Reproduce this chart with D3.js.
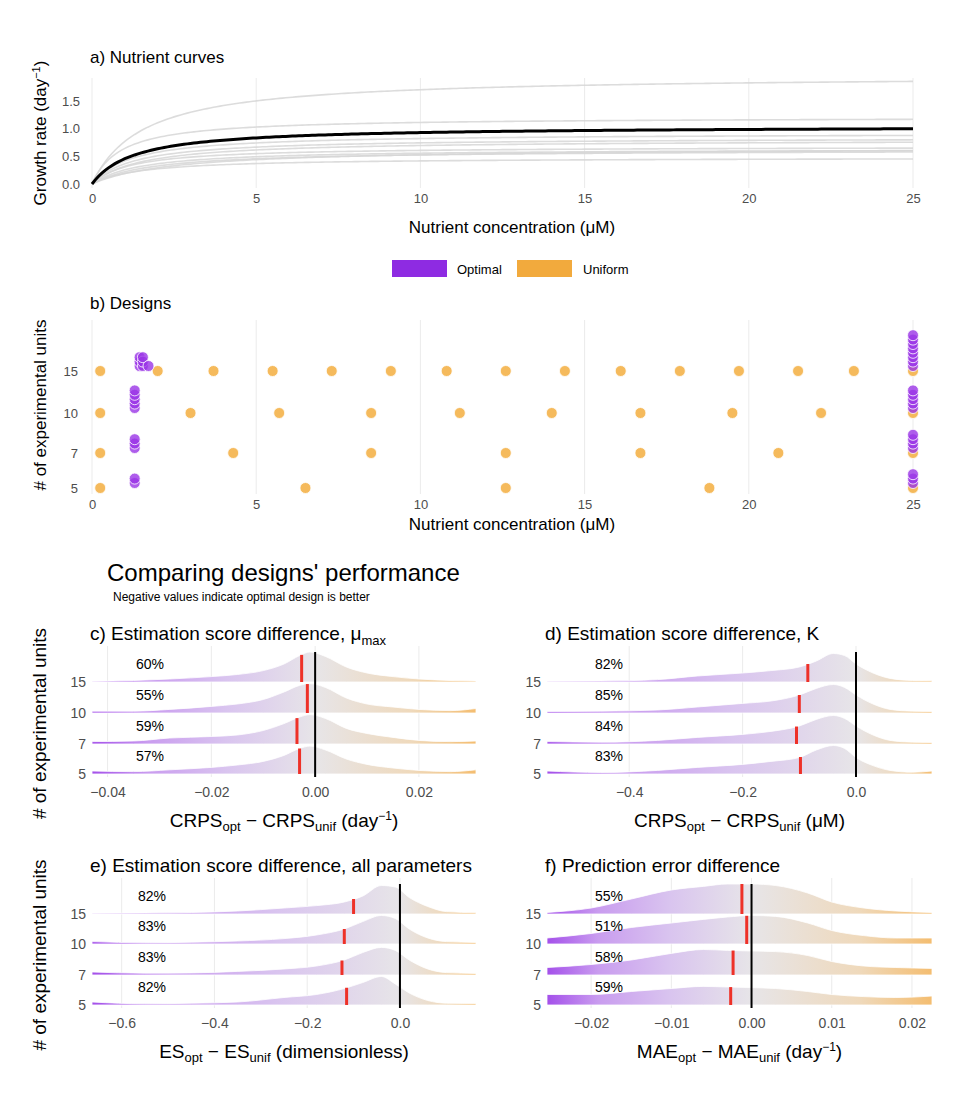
<!DOCTYPE html>
<html><head><meta charset="utf-8">
<script src="https://cdn.jsdelivr.net/npm/d3@7"></script>
<style>
body{margin:0;background:#fff;font-family:"Liberation Sans",Arial,sans-serif;}
text{font-family:"Liberation Sans",Arial,sans-serif;}
.tick text{fill:#4d4d4d;font-size:13px;}
.tick line,.domain{display:none;}
</style></head>
<body><svg width="972" height="1100"></svg>
<script>
var svg = d3.select('svg');
var purple = '#9a35e6', orange = '#f3ae3f';

// ---- panel a: Monod curve parameters ----
var curveMuMax = [1.97, 1.21, 0.92, 0.84, 0.80, 0.68, 0.64, 0.62, 0.48, 0.66];
var curveK     = [1.56, 0.88, 1.2, 1.3, 1.5, 1.2, 1.5, 1.8, 1.5, 2.5];
var meanMuMax = 1.05, meanK = 1.3;

// ---- panel b: designs ----
var designRows = [5, 7, 10, 15];
var uniformX = {
  15: [0.25, 2.0, 3.7, 5.5, 7.3, 9.1, 10.8, 12.6, 14.4, 16.1, 17.9, 19.7, 21.5, 23.2, 25],
  10: [0.25, 3.0, 5.7, 8.5, 11.2, 14.0, 16.7, 19.5, 22.2, 25],
  7:  [0.25, 4.3, 8.5, 12.6, 16.7, 20.9, 25],
  5:  [0.25, 6.5, 12.6, 18.8, 25]
};
var optimalX = {
  15: [1.45, 1.45, 1.45, 1.55, 1.55, 1.55, 1.72, 25, 25, 25, 25, 25, 25, 25, 25],
  10: [1.3, 1.3, 1.3, 1.3, 1.3, 25, 25, 25, 25, 25],
  7:  [1.3, 1.3, 1.3, 25, 25, 25, 25],
  5:  [1.3, 1.3, 25, 25, 25]
};

// ---- ridge panels ----
var ridgeRows = [15, 10, 7, 5];
var panelC = {
  grid: [-0.043,-0.035,-0.028,-0.02,-0.015,-0.01,-0.006,-0.003,-0.001,0.002,0.006,0.01,0.015,0.02,0.026,0.031],
  dens: [[0.02,0.05,0.1,0.18,0.25,0.38,0.6,0.88,1.0,0.85,0.5,0.3,0.18,0.1,0.05,0.03],
         [0.06,0.06,0.12,0.22,0.3,0.45,0.7,0.92,0.98,0.85,0.5,0.3,0.2,0.12,0.08,0.15],
         [0.08,0.1,0.2,0.25,0.3,0.45,0.68,0.9,0.98,0.85,0.52,0.35,0.22,0.12,0.08,0.1],
         [0.1,0.08,0.14,0.22,0.3,0.42,0.62,0.85,0.93,0.8,0.5,0.32,0.2,0.12,0.08,0.14]],
  medians: [-0.0026, -0.0015, -0.0035, -0.0030],
  pct: ['60%', '55%', '59%', '57%'],
  ticks: [-0.04, -0.02, 0, 0.02], fmt: '.2f'
};
var panelD = {
  grid: [-0.545,-0.45,-0.35,-0.28,-0.2,-0.15,-0.1,-0.07,-0.04,-0.02,0,0.03,0.06,0.1,0.134],
  dens: [[0.02,0.03,0.08,0.2,0.3,0.38,0.5,0.7,0.95,0.88,0.6,0.3,0.12,0.05,0.04],
         [0.05,0.06,0.1,0.2,0.32,0.4,0.6,0.82,0.95,0.85,0.6,0.3,0.12,0.06,0.05],
         [0.08,0.06,0.12,0.22,0.32,0.42,0.6,0.82,0.95,0.85,0.6,0.3,0.12,0.06,0.05],
         [0.1,0.05,0.12,0.22,0.32,0.42,0.55,0.8,0.95,0.85,0.55,0.28,0.12,0.06,0.1]],
  medians: [-0.085, -0.100, -0.105, -0.098],
  pct: ['82%', '85%', '84%', '83%'],
  ticks: [-0.4, -0.2, 0], fmt: '.1f'
};
var panelE = {
  grid: [-0.664,-0.55,-0.45,-0.35,-0.25,-0.18,-0.12,-0.08,-0.04,-0.01,0.02,0.06,0.1,0.164],
  dens: [[0.02,0.03,0.05,0.1,0.2,0.28,0.4,0.6,0.95,0.9,0.55,0.25,0.08,0.04],
         [0.08,0.04,0.06,0.1,0.18,0.3,0.5,0.75,0.95,0.85,0.5,0.2,0.08,0.05],
         [0.1,0.06,0.07,0.12,0.2,0.3,0.5,0.75,0.92,0.82,0.5,0.2,0.08,0.05],
         [0.1,0.04,0.06,0.1,0.25,0.35,0.55,0.75,0.95,0.7,0.4,0.15,0.06,0.05]],
  medians: [-0.100, -0.120, -0.125, -0.115],
  pct: ['82%', '83%', '83%', '82%'],
  ticks: [-0.6, -0.4, -0.2, 0], fmt: '.1f'
};
var panelF = {
  grid: [-0.0255,-0.02,-0.015,-0.01,-0.006,-0.003,0,0.003,0.007,0.01,0.014,0.018,0.0225],
  dens: [[0.05,0.2,0.5,0.8,0.92,1.0,1.0,0.95,0.7,0.4,0.2,0.1,0.05],
         [0.2,0.35,0.55,0.7,0.82,0.9,0.95,0.92,0.7,0.45,0.28,0.2,0.2],
         [0.25,0.35,0.5,0.72,0.85,0.82,0.8,0.78,0.65,0.45,0.3,0.25,0.22],
         [0.35,0.35,0.45,0.55,0.62,0.6,0.58,0.55,0.45,0.35,0.28,0.25,0.3]],
  medians: [-0.0012, -0.0006, -0.0023, -0.0026],
  pct: ['55%', '51%', '58%', '59%'],
  ticks: [-0.02, -0.01, 0, 0.01, 0.02], fmt: '.2f'
};

var defs = svg.append('defs');
function minus(s){ return s.replace('-', '\u2212'); }

// ================= panel a =================
var xA = d3.scaleLinear().domain([0, 25]).range([92, 913]);
var yA = d3.scaleLinear().domain([0, 1.5]).range([184, 101]);
var gA = svg.append('g');
gA.selectAll('.grid').data([0,5,10,15,20,25]).enter().append('line')
  .attr('x1', d => xA(d)).attr('x2', d => xA(d)).attr('y1', 78).attr('y2', 188)
  .attr('stroke', '#ebebeb');
gA.append('g').attr('transform', 'translate(0,188)')
  .call(d3.axisBottom(xA).tickValues([0,5,10,15,20,25]).tickSize(0).tickPadding(6));
gA.append('g').attr('transform', 'translate(84,0)')
  .call(d3.axisLeft(yA).tickValues([0,0.5,1,1.5]).tickFormat(d3.format('.1f')).tickSize(0).tickPadding(4));
var conc = d3.range(0, 25.001, 0.1);
var lineA = d3.line().x(d => xA(d[0])).y(d => yA(d[1]));
curveMuMax.forEach(function(m, i){
  gA.append('path').attr('d', lineA(conc.map(c => [c, m * c / (curveK[i] + c)])))
    .attr('fill', 'none').attr('stroke', '#d6d6d6').attr('stroke-opacity', 0.85).attr('stroke-width', 1.6);
});
gA.append('path').attr('d', lineA(conc.map(c => [c, meanMuMax * c / (meanK + c)])))
  .attr('fill', 'none').attr('stroke', '#000').attr('stroke-width', 3);
svg.append('text').attr('x', 90).attr('y', 63).attr('font-size', 17).text('a) Nutrient curves');
var ya = svg.append('text').attr('transform', 'translate(46,133) rotate(-90)').attr('text-anchor', 'middle').attr('font-size', 17);
ya.append('tspan').text('Growth rate (day');
ya.append('tspan').attr('dy', -6).attr('font-size', 11).text('\u22121');
ya.append('tspan').attr('dy', 6).text(')');
svg.append('text').attr('x', 512).attr('y', 233).attr('text-anchor', 'middle').attr('font-size', 17).text('Nutrient concentration (\u03bcM)');

// legend
svg.append('rect').attr('x', 392).attr('y', 260).attr('width', 55).attr('height', 17).attr('fill', '#8e2be2');
svg.append('text').attr('x', 457).attr('y', 274).attr('font-size', 13).text('Optimal');
svg.append('rect').attr('x', 517).attr('y', 260).attr('width', 55).attr('height', 17).attr('fill', '#f2aa3d');
svg.append('text').attr('x', 583).attr('y', 274).attr('font-size', 13).text('Uniform');

// ================= panel b =================
var yBscale = d3.scaleOrdinal().domain([5,7,10,15]).range([488,453,413,371]);
var gB = svg.append('g');
gB.selectAll('.grid').data([0,5,10,15,20,25]).enter().append('line')
  .attr('x1', d => xA(d)).attr('x2', d => xA(d)).attr('y1', 320).attr('y2', 494)
  .attr('stroke', '#ebebeb');
gB.append('g').attr('transform', 'translate(0,494)')
  .call(d3.axisBottom(xA).tickValues([0,5,10,15,20,25]).tickSize(0).tickPadding(6));
gB.append('g').attr('transform', 'translate(80,0)')
  .call(d3.axisLeft(yBscale).tickValues(designRows).tickSize(0).tickPadding(2));
designRows.forEach(function(n){
  gB.selectAll('.u' + n).data(uniformX[n]).enter().append('circle')
    .attr('cx', d => xA(d)).attr('cy', yBscale(n)).attr('r', 5.5)
    .attr('fill', orange).attr('fill-opacity', 0.85).attr('stroke', '#fff').attr('stroke-width', 0.8);
  var counts = {};
  gB.selectAll('.o' + n).data(optimalX[n]).enter().append('circle')
    .attr('cx', d => xA(d))
    .attr('cy', function(d){ var k = counts[d] || 0; counts[d] = k + 1; return yBscale(n) - 5 - k * 4.4; })
    .attr('r', 5.5)
    .attr('fill', purple).attr('fill-opacity', 0.8).attr('stroke', '#fff').attr('stroke-width', 0.8);
});
svg.append('text').attr('x', 90).attr('y', 309).attr('font-size', 17).text('b) Designs');
svg.append('text').attr('transform', 'translate(46,405) rotate(-90)').attr('text-anchor', 'middle').attr('font-size', 17).text('# of experimental units');
svg.append('text').attr('x', 512).attr('y', 530).attr('text-anchor', 'middle').attr('font-size', 17).text('Nutrient concentration (\u03bcM)');

// header
svg.append('text').attr('x', 107).attr('y', 581).attr('font-size', 24).text("Comparing designs' performance");
svg.append('text').attr('x', 113).attr('y', 601).attr('font-size', 12).text('Negative values indicate optimal design is better');

// ================= ridge panels =================
function ridgePanel(p, id, x0, x1, rowY, labelX, title, xlab, showY) {
  var x = d3.scaleLinear().domain([p.grid[0], p.grid[p.grid.length - 1]]).range([x0, x1]);
  var h = 30;
  var g = svg.append('g');
  var top = rowY[0] - 36, bot = rowY[3] + 3;
  g.selectAll('.grid').data(p.ticks).enter().append('line')
    .attr('x1', d => x(d)).attr('x2', d => x(d)).attr('y1', top).attr('y2', bot)
    .attr('stroke', '#ebebeb');
  var grad = defs.append('linearGradient').attr('id', 'grad' + id)
    .attr('gradientUnits', 'userSpaceOnUse').attr('x1', x0).attr('x2', x1).attr('y1', 0).attr('y2', 0);
  var z = (x(0) - x0) / (x1 - x0);
  grad.append('stop').attr('offset', 0).attr('stop-color', '#a450ea');
  grad.append('stop').attr('offset', z * 0.25).attr('stop-color', '#c99cef');
  grad.append('stop').attr('offset', z * 0.6).attr('stop-color', '#d9c4ef');
  grad.append('stop').attr('offset', z).attr('stop-color', '#e7e5e8');
  grad.append('stop').attr('offset', z + (1 - z) * 0.6).attr('stop-color', '#efd9bb');
  grad.append('stop').attr('offset', 1).attr('stop-color', '#f4bd70');
  p.dens.forEach(function(ds, i){
    var base = rowY[i];
    var pts = p.grid.map((gx, j) => [gx, ds[j]]);
    var area = d3.area().curve(d3.curveMonotoneX).x(d => x(d[0])).y0(base).y1(d => base - d[1] * h);
    g.append('path').attr('d', area(pts)).attr('fill', 'url(#grad' + id + ')')
      .attr('stroke', '#fff').attr('stroke-width', 0.8);
    // median segment up to the density at the median
    var m = p.medians[i];
    var j = d3.bisectRight(p.grid, m) - 1;
    var t = (m - p.grid[j]) / (p.grid[j + 1] - p.grid[j]);
    var hm = (ds[j] + t * (ds[j + 1] - ds[j])) * h;
    g.append('line').attr('x1', x(m)).attr('x2', x(m)).attr('y1', base).attr('y2', base - hm)
      .attr('stroke', '#ee3128').attr('stroke-width', 3);
    g.append('text').attr('x', labelX).attr('y', base - 13).attr('text-anchor', 'middle')
      .attr('font-size', 14).text(p.pct[i]);
  });
  g.append('line').attr('x1', x(0)).attr('x2', x(0)).attr('y1', top + 6).attr('y2', bot)
    .attr('stroke', '#000').attr('stroke-width', 2);
  var xa = g.append('g').attr('transform', 'translate(0,' + (bot + 2) + ')')
    .call(d3.axisBottom(x).tickValues(p.ticks).tickFormat(d => minus(d3.format(p.fmt)(d))).tickSize(0).tickPadding(8));
  var yS = d3.scaleOrdinal().domain(ridgeRows).range(rowY);
  g.append('g').attr('transform', 'translate(' + (x0 - 4) + ',0)')
    .call(d3.axisLeft(yS).tickSize(0).tickPadding(2));
  g.selectAll('.tick text').style('font-size', '14px');
  g.append('text').attr('x', x0 - 2).attr('y', top - 6).attr('font-size', 19).html(title);
  var xl = g.append('text').attr('x', (x0 + x1) / 2).attr('y', bot + 50).attr('text-anchor', 'middle').attr('font-size', 19);
  xlab(xl);
  if (showY) {
    svg.append('text').attr('transform', 'translate(46,' + ((top + bot) / 2 + 12) + ') rotate(-90)')
      .attr('text-anchor', 'middle').attr('font-size', 19).text('# of experimental units');
  }
}
function sub(t, main, s) {
  t.append('tspan').text(main);
  t.append('tspan').attr('dy', 4).attr('font-size', 13).text(s);
  t.append('tspan').attr('dy', -4).text(' ');
}
function dayInv(t) {
  t.append('tspan').text('(day');
  t.append('tspan').attr('dy', -7).attr('font-size', 12).text('\u22121');
  t.append('tspan').attr('dy', 7).text(')');
}
var rowsTop = [682, 713, 744, 774];
var rowsBot = [914, 944, 975, 1005];
ridgePanel(panelC, 'c', 92, 476, rowsTop, 150,
  'c) Estimation score difference, \u03bc<tspan dy="5" font-size="13">max</tspan>',
  function(t){ sub(t, 'CRPS', 'opt'); t.append('tspan').text('\u2212 '); sub(t, 'CRPS', 'unif'); dayInv(t); }, true);
ridgePanel(panelD, 'd', 547, 932, rowsTop, 609,
  'd) Estimation score difference, K',
  function(t){ sub(t, 'CRPS', 'opt'); t.append('tspan').text('\u2212 '); sub(t, 'CRPS', 'unif'); t.append('tspan').text('(\u03bcM)'); }, false);
ridgePanel(panelE, 'e', 92, 476, rowsBot, 152,
  'e) Estimation score difference, all parameters',
  function(t){ sub(t, 'ES', 'opt'); t.append('tspan').text('\u2212 '); sub(t, 'ES', 'unif'); t.append('tspan').text('(dimensionless)'); }, true);
ridgePanel(panelF, 'f', 547, 932, rowsBot, 609,
  'f) Prediction error difference',
  function(t){ sub(t, 'MAE', 'opt'); t.append('tspan').text('\u2212 '); sub(t, 'MAE', 'unif'); dayInv(t); }, false);
</script></body></html>
